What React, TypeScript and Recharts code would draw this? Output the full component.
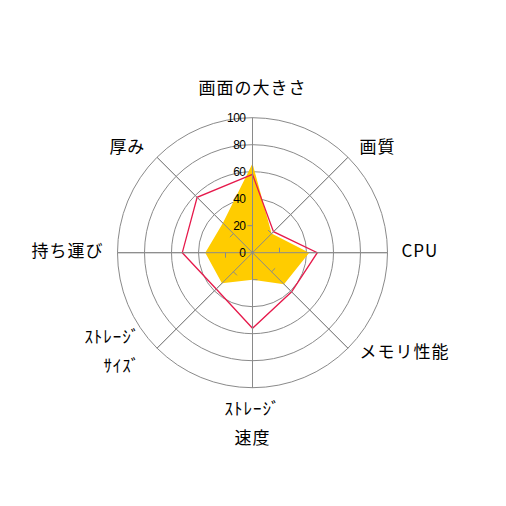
import React from 'react';
import { RadarChart, Radar, PolarGrid, PolarAngleAxis, PolarRadiusAxis } from 'recharts';

const categories = ['画面の大きさ', '画質', 'CPU', 'メモリ性能', 'ｽﾄﾚｰｼﾞ\n速度', 'ｽﾄﾚｰｼﾞ\nｻｲｽﾞ', '持ち運び', '厚み'];
const seriesA = [66, 20, 42, 33, 20, 32, 35, 31];
const seriesB = [58, 22, 48, 41, 56, 38, 52, 58];
const labelTicks = [0, 20, 40, 60, 80, 100];
const gridTicks = [40, 60, 80, 100];
const minorTicks = [20, 100];

const data = categories.map((c, i) => ({ subject: c, a: seriesA[i], b: seriesB[i] }));

const GRID = '#8a8a8a';
const YELLOW = '#FFCC00';
const RED = '#E6194B';
const CJK = '"Noto Sans CJK JP", "Noto Sans", sans-serif';

function AngleTick(props: any) {
  const { x, y, payload, cx, cy } = props;
  let angleDeg: number;
  if (typeof cx === 'number' && typeof cy === 'number') {
    angleDeg = (Math.atan2(cy - y, x - cx) * 180) / Math.PI;
  } else {
    angleDeg = payload.coordinate;
  }
  const rad = (angleDeg * Math.PI) / 180;
  const cos = Math.cos(rad);
  const sin = Math.sin(rad);
  const lines = String(payload.value).split('\n');
  const n = lines.length;
  const lh = 29;
  let anchor: 'start' | 'middle' | 'end' = 'middle';
  let dx = 0;
  if (cos > 0.3) {
    anchor = 'start';
    dx = 6;
  } else if (cos < -0.3) {
    anchor = 'end';
    dx = n > 1 ? -11 : -6;
  }
  let firstY: number;
  if (sin > 0.9) firstY = y - 23 - (n - 1) * lh;
  else if (sin < -0.9) firstY = y + 12;
  else {
    const center = y - 3.5 - 4 * Math.max(sin, 0);
    firstY = center - ((n - 1) * lh) / 2;
  }
  return (
    <g>
      {lines.map((ln, i) => (
        <text
          key={i}
          x={x + dx}
          y={firstY + i * lh}
          textAnchor={anchor}
          dominantBaseline="central"
          fontSize={17}
          letterSpacing={1}
          fontFamily={CJK}
          fill="#000"
        >
          {ln}
        </text>
      ))}
    </g>
  );
}

function RadiusLabel(props: any) {
  const { x, y, payload } = props;
  return (
    <text
      x={x - 7}
      y={y}
      textAnchor="end"
      dominantBaseline="central"
      fontSize={12}
      letterSpacing={-0.5}
      fontFamily='"Liberation Sans", Arial, sans-serif'
      fill="#000"
      stroke="none"
    >
      {payload.value}
    </text>
  );
}

const makeMinorTick = (axisAngle: number) => (p: any) => {
  if (p.payload && p.payload.value === 100) {
    if (typeof p.cx === 'number' && typeof p.cy === 'number') {
      return <line x1={p.cx} y1={p.cy} x2={p.x} y2={p.y} stroke={GRID} strokeWidth={1} />;
    }
    return <g />;
  }
  const a = ((axisAngle + 90) * Math.PI) / 180;
  const len = 5;
  return (
    <line
      x1={p.x}
      y1={p.y}
      x2={p.x + len * Math.cos(a)}
      y2={p.y - len * Math.sin(a)}
      stroke={GRID}
      strokeWidth={1}
    />
  );
};

const axisAngles = categories.map((_, i) => 90 - (360 * i) / categories.length);

export default function App() {
  return (
    <div style={{ width: 490, height: 490, background: '#fff' }}>
      <RadarChart width={490} height={490} data={data} cx={244.5} cy={244.7} outerRadius={135}>
        <PolarGrid gridType="circle" radialLines={false} stroke={GRID} />
        <PolarAngleAxis dataKey="subject" tick={AngleTick} tickLine={false} axisLine={false} />
        <PolarRadiusAxis
          angle={90}
          domain={[0, 100]}
          type="number"
          ticks={gridTicks}
          tick={false}
          axisLine={false}
        />
        <Radar
          dataKey="a"
          fill={YELLOW}
          fillOpacity={1}
          stroke="none"
          isAnimationActive={false}
          dot={false}
        />
        <PolarGrid gridType="circle" polarRadius={[]} radialLines={true} stroke={GRID} />
        {axisAngles.map((ang, i) => (
          <PolarRadiusAxis
            key={'m' + i}
            radiusAxisId={'m' + i}
            angle={ang}
            domain={[0, 100]}
            type="number"
            ticks={minorTicks}
            tick={makeMinorTick(ang)}
            axisLine={false}
            tickLine={false}
          />
        ))}
        {axisAngles.map((ang, i) => (
          <Radar
            key={'h' + i}
            radiusAxisId={'m' + i}
            dataKey="a"
            fill="none"
            fillOpacity={0}
            stroke="none"
            legendType="none"
            isAnimationActive={false}
            dot={false}
          />
        ))}
        <Radar
          dataKey="b"
          fill="none"
          fillOpacity={0}
          stroke={RED}
          strokeWidth={1.3}
          isAnimationActive={false}
          dot={false}
        />
        <PolarRadiusAxis
          radiusAxisId="lbl"
          angle={90}
          domain={[0, 100]}
          type="number"
          ticks={labelTicks}
          tick={RadiusLabel}
          axisLine={false}
          tickLine={false}
        />
        <Radar
          radiusAxisId="lbl"
          dataKey="a"
          fill="none"
          fillOpacity={0}
          stroke="none"
          legendType="none"
          isAnimationActive={false}
          dot={false}
        />
      </RadarChart>
    </div>
  );
}
